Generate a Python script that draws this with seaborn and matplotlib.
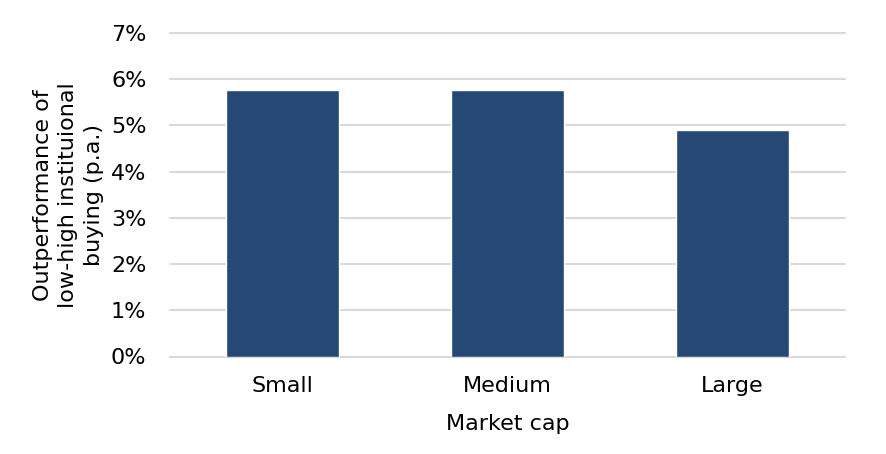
import seaborn as sns
import matplotlib.pyplot as plt
import pandas as pd

# Data
categories = ['Small', 'Medium', 'Large']
outperformance = [5.76, 5.76, 4.91]

df = pd.DataFrame({'Market cap': categories, 'Outperformance': outperformance})

sns.set_style('white')
plt.rcParams['font.family'] = ['DejaVu Sans']

fig = plt.figure(figsize=(8.86, 4.54), dpi=100)
ax = fig.add_axes([170 / 886, (454 - 356.5) / 454, 675 / 886, 323.5 / 454])

sns.barplot(data=df, x='Market cap', y='Outperformance', color='#264874',
            saturation=1, width=0.5, ax=ax, zorder=3)

ax.set_ylim(0, 7)
ax.set_xlim(-0.5, 2.5)
ax.set_yticks(range(0, 8))
ax.set_yticklabels([f'{i}%' for i in range(0, 8)])
ax.yaxis.grid(True, color='#d9d9d9', linewidth=1.5, zorder=0)
for gl in ax.get_ygridlines():
    gl.set_clip_on(False)
for s in ax.spines.values():
    s.set_visible(False)
ax.tick_params(axis='both', length=0, labelsize=16, colors='black')
ax.tick_params(axis='y', pad=17)
ax.tick_params(axis='x', pad=14)

ax.set_xlabel('Market cap', fontsize=16, labelpad=13, color='black')
ax.set_ylabel('Outperformance of\nlow-high instituional\nbuying (p.a.)',
              fontsize=16, labelpad=5, color='black', linespacing=1.35)

fig.savefig('out.png', dpi=100)
